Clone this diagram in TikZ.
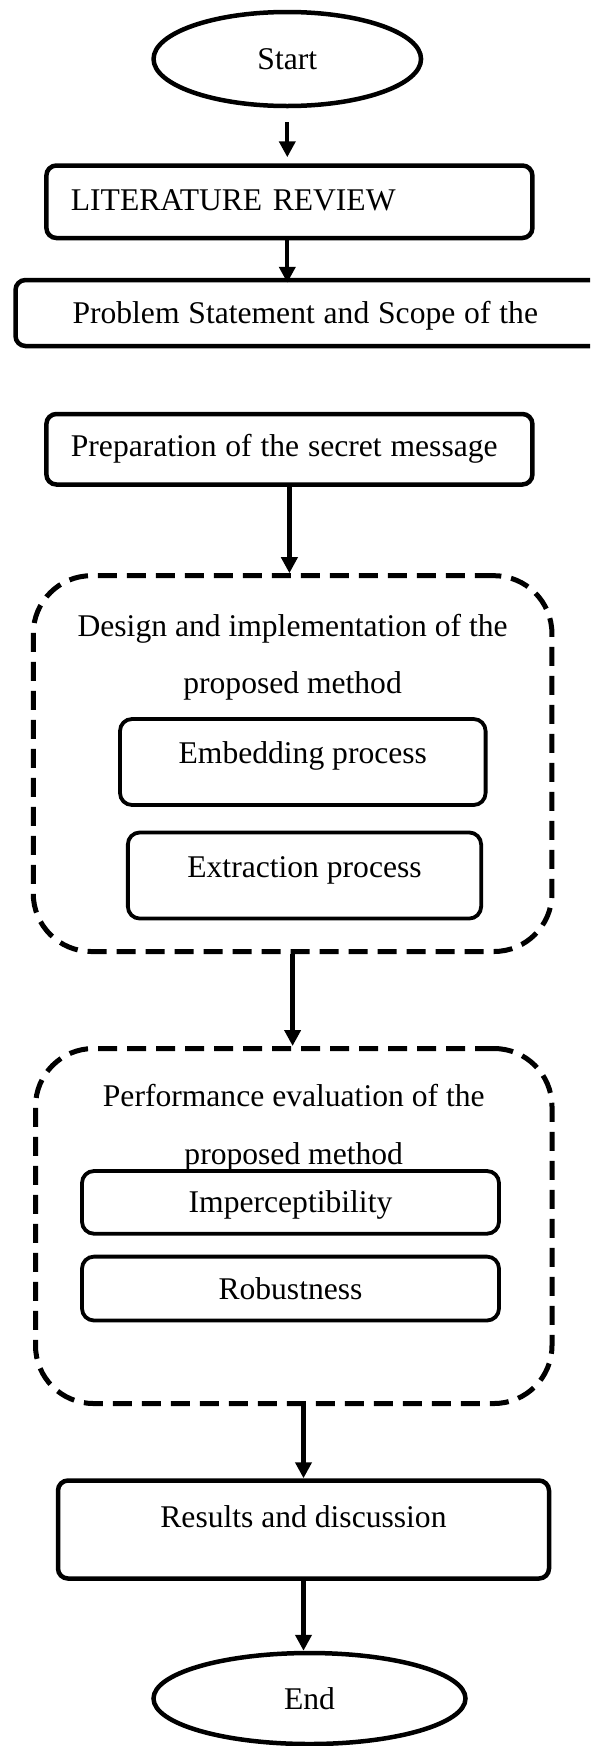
\documentclass[tikz,border=0pt]{standalone}
\usepackage{fontspec}
\setmainfont{Liberation Serif}
\usetikzlibrary{shapes.geometric,arrows.meta}

\begin{document}
\begin{tikzpicture}[x=1pt,y=-1pt,
    every node/.style={font=\fontsize{31.6}{57.5}\selectfont},
    terminal/.style={ellipse, draw, line width=4.5pt, inner sep=0pt},
    stepbox/.style={rectangle, draw, rounded corners=10pt, line width=4.5pt, inner ysep=0pt},
    subbox/.style={rectangle, draw, rounded corners=12pt, line width=3.8pt, inner ysep=0pt},
    groupbox/.style={rectangle, draw, rounded corners=58pt, line width=5pt, dash pattern=on 19pt off 10pt},
    flow/.style={line width=4.3pt, -{Triangle[length=16pt,width=16pt]}}]

    \useasboundingbox (0,0) rectangle (590,1746);
    \clip (0,0) rectangle (590,1746);

    % Start and the first steps
    \node[terminal, minimum width=267.5pt, minimum height=94pt] (start) at (287.3,59) {Start};
    \node[stepbox, text width=437pt, inner xsep=24.5pt, align=left, text height=44.5pt, text depth=28pt] (lit) at (289.4,201.75) {LITERATURE REVIEW};
    \node[stepbox, text width=480pt, inner xsep=57pt, align=left, text height=43pt, text depth=23pt] (prob) at (312.5,313) {\spaceskip=0.28em Problem Statement and Scope of the};
    \node[stepbox, text width=437pt, inner xsep=24.5pt, align=left, text height=42.5pt, text depth=28pt] (prep) at (289.4,449.25) {\spaceskip=0.28em Preparation of the secret message};

    % Design and implementation group
    \node[groupbox, minimum width=518.7pt, minimum height=375.8pt] (design) at (292.6,763.6) {};
    \node[anchor=north, align=center, inner sep=0pt] (designtitle) at (292.6,614) {Design and implementation of the\\proposed method};
    \node[subbox, minimum width=365.6pt, text height=44pt, text depth=42pt] (embed) at (302.8,762) {Embedding process};
    \node[subbox, minimum width=353.3pt, text height=45.5pt, text depth=40.6pt] (extract) at (304.5,875.5) {Extraction process};

    % Performance evaluation group
    \node[groupbox, minimum width=516.5pt, minimum height=355pt] (eval) at (293.75,1226) {};
    \node[anchor=north, align=center, inner sep=0pt] (evaltitle) at (293.75,1084.5) {Performance evaluation of the\\proposed method};
    \node[subbox, minimum width=417pt, text height=41pt, text depth=21.7pt] (imperc) at (290.5,1202.35) {Imperceptibility};
    \node[subbox, minimum width=417pt, text height=42.4pt, text depth=21.5pt] (robust) at (290.5,1288.55) {Robustness};

    % Results and the end
    \node[stepbox, minimum width=491pt, text height=46.5pt, text depth=51.5pt] (res) at (303.5,1529.5) {Results and discussion};
    \node[terminal, minimum width=312pt, minimum height=91pt] (stop) at (309.5,1698.5) {End};

    % Connectors
    \draw[flow, shorten <=14pt, shorten >=6pt] (start.south) -- (start.south |- lit.north);
    \draw[flow, shorten >=-5pt] (start.south |- lit.south) -- (start.south |- prob.north);
    \draw[flow] (prep.south) -- (prep.south |- design.north);
    \draw[flow] (design.south) -- (design.south |- eval.north);
    \draw[flow] (res.north |- eval.south) -- (res.north);
    \draw[flow] (res.south) -- (res.south |- stop.north);
\end{tikzpicture}
\end{document}
